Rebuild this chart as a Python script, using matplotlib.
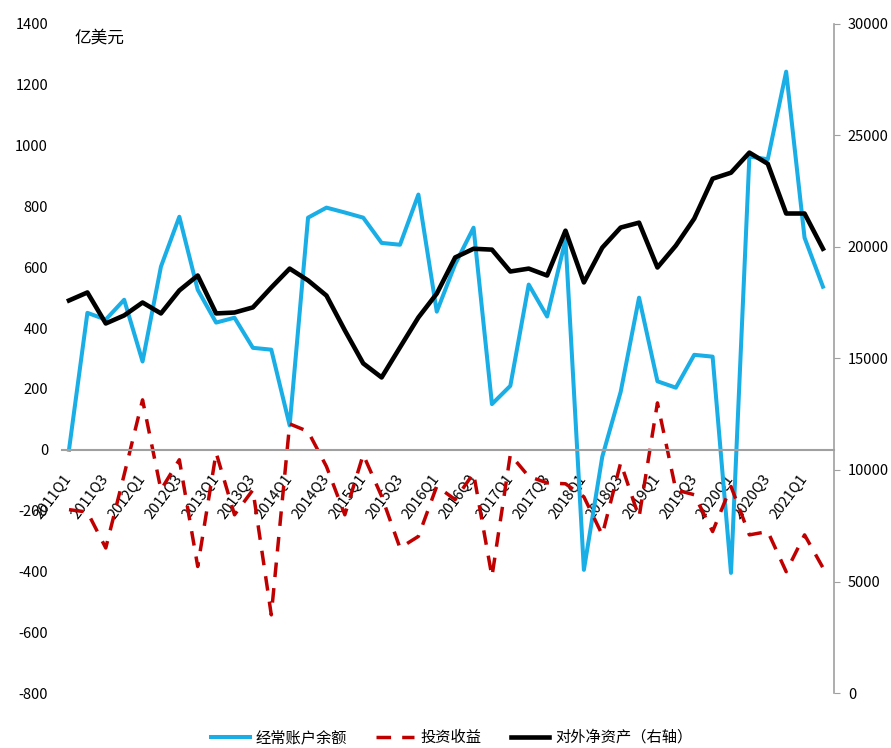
import numpy as np
import matplotlib
matplotlib.use("Agg")
import matplotlib.pyplot as plt

plt.rcParams['font.family'] = ['Noto Sans CJK SC', 'DejaVu Sans']
plt.rcParams['axes.unicode_minus'] = False

# 2011Q1 .. 2021Q2
quarters = [f"{y}Q{q}" for y in range(2011, 2022) for q in range(1, 5)][:42]

current_account = [0, 450, 428, 493, 290, 602, 766, 526, 418, 434,
                   335, 329, 80, 763, 796, 780, 763, 680, 674, 839,
                   454, 610, 730, 150, 210, 543, 438, 690, -395, -23,
                   190, 500, 225, 204, 312, 306, -405, 964, 955, 1243,
                   697, 536]

invest_income = [-197, -205, -323, -82, 164, -132, -33, -384, -10, -214,
                 -132, -543, 85, 60, -55, -214, -16, -153, -323, -285,
                 -120, -164, -77, -417, -16, -88, -109, -112, -155, -280,
                 -43, -222, 154, -132, -148, -269, -121, -280, -269, -401,
                 -280, -388]

net_assets = [17600, 17960, 16570, 16930, 17510, 17020, 18050, 18720, 17020, 17060,
              17290, 18180, 19030, 18500, 17820, 16260, 14780, 14150, 15500, 16840,
              17910, 19530, 19920, 19880, 18900, 19030, 18720, 20730, 18410, 19970,
              20870, 21090, 19080, 20060, 21270, 23060, 23330, 24230, 23730, 21500,
              21500, 19920]

x = np.arange(len(quarters))

fig = plt.figure(figsize=(8.91, 7.48), dpi=100)
ax = fig.add_axes([0.0696, 0.0735, 0.8664, 0.8945])
ax2 = ax.twinx()

l1, = ax.plot(x, current_account, color='#1AAEE6', lw=2.9, label='经常账户余额')
l2, = ax.plot(x, invest_income, color='#C00000', lw=2.5, dashes=(4.2, 3.2),
              label='投资收益')
l3, = ax2.plot(x, net_assets, color='black', lw=3.3, label='对外净资产（右轴）')

ax.set_xlim(-0.38, 41.6)
ax.set_ylim(-800, 1400)
ax.set_yticks(np.arange(-800, 1401, 200))
ax2.set_ylim(0, 30000)
ax2.set_yticks(np.arange(0, 30001, 5000))

ax.spines['bottom'].set_position(('data', 0))
ax.spines['bottom'].set_color('#A0A0A0')
ax.spines['bottom'].set_linewidth(1.5)
for s in ['left', 'top', 'right']:
    ax.spines[s].set_visible(False)
for s in ['left', 'top', 'bottom']:
    ax2.spines[s].set_visible(False)
ax2.spines['right'].set_color('#A0A0A0')
ax2.spines['right'].set_linewidth(1.2)

ax.set_xticks(x[::2])
ax.set_xticklabels(quarters[::2], rotation=53, ha='right', va='center',
                   rotation_mode='anchor', fontsize=10.5)
ax.tick_params(axis='x', length=0, pad=19)
ax.tick_params(axis='y', length=0, labelsize=10.5, pad=10)
ax2.tick_params(axis='y', length=4, color='#A0A0A0', labelsize=10.5, pad=6)

ax.text(0.3, 1355, '亿美元', fontsize=12, ha='left', va='center')

fig.legend(handles=[l1, l2, l3], loc='center', bbox_to_anchor=(0.507, 0.014),
           ncol=3, frameon=False, fontsize=11, handlelength=2.5,
           columnspacing=1.9, handletextpad=0.4)

fig.savefig('out.png', dpi=100)
